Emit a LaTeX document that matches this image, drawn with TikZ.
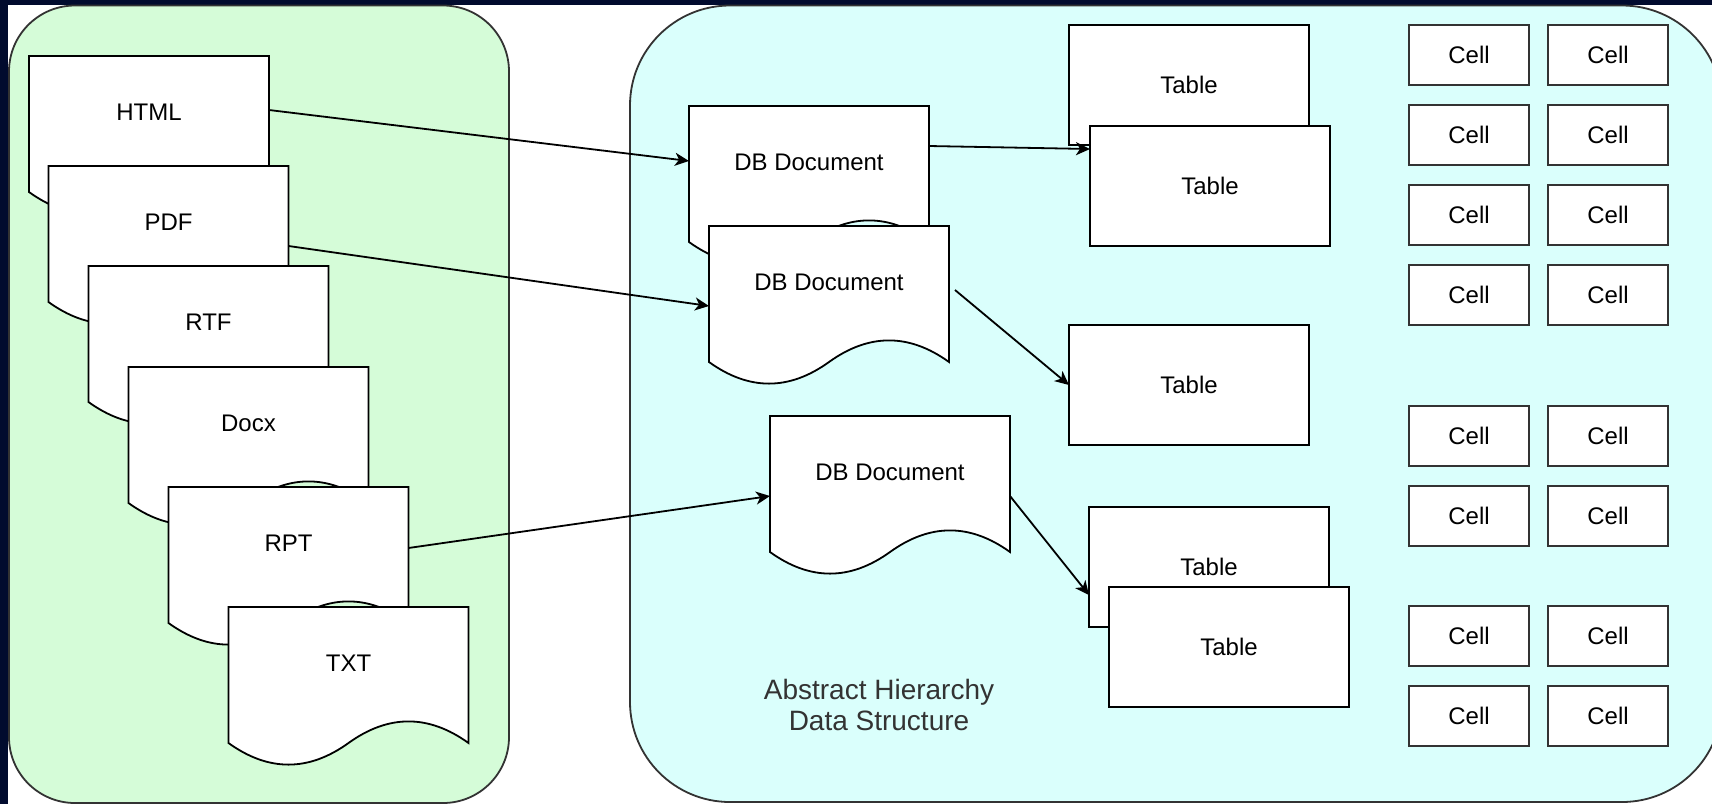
\documentclass[tikz,border=0pt]{standalone}
\usepackage{fontspec}
\setmainfont{Liberation Sans}
\usepackage{xcolor}
\usetikzlibrary{arrows.meta, positioning}

\definecolor{navy}{RGB}{1,11,46}
\definecolor{srcgreen}{RGB}{213,252,216}
\definecolor{dbcyan}{RGB}{218,255,252}
\definecolor{edgegray}{RGB}{51,51,51}

% document with wavy bottom: outline first, named node on top
\newcommand{\docnode}[4]{%
  \begin{scope}[shift={(#2,#3)}]
    \filldraw[docline] (0,0) -- (240,0) -- (240,136)
      .. controls (200,107.2) and (160,107.2) .. (120,136)
      .. controls (80,164.8) and (40,164.8) .. (0,136) -- cycle;
  \end{scope}
  \node[doc] (#1) at (#2,#3) {#4};
}

\tikzset{
  docline/.style={fill=white, draw=black, line width=0.9pt},
  doc/.style={anchor=north west, inner sep=0pt, outer sep=0pt,
    minimum width=120pt, text height=32.3pt, text depth=47.7pt,
    font=\fontsize{12}{14}\selectfont},
  tab/.style={draw=black, fill=white, line width=0.9pt, anchor=north west,
    minimum width=120pt, minimum height=60pt, inner sep=0pt, outer sep=0pt,
    font=\fontsize{12}{14}\selectfont},
  cell/.style={draw=edgegray, fill=white, line width=1pt,
    minimum width=60pt, minimum height=30pt, inner sep=0pt, outer sep=0pt,
    font=\fontsize{12}{14}\selectfont},
  frame/.style={draw=edgegray, line width=0.9pt},
  link/.style={line width=0.9pt, -{Stealth[length=7pt,width=6.5pt,inset=2pt]}},
}

\begin{document}
\begin{tikzpicture}[x=0.5pt, y=-0.5pt]
  \useasboundingbox (0,0) rectangle (1712,804);
  \clip (0,0) rectangle (1712,804);
  \fill[navy] (0,0) rectangle (1712,804);
  \fill[white] (7.5,5) rectangle (1712,804);

  % containers
  \draw[frame, fill=srcgreen, rounded corners=33pt] (9,5.5) rectangle (509,803);
  \draw[frame, fill=dbcyan, rounded corners=50pt] (630,5.5) rectangle (1722,802);

  % source files
  \docnode{html}{29}{56}{HTML}
  \docnode{pdf}{48.5}{166}{PDF}
  \docnode{rtf}{88.5}{266}{RTF}
  \docnode{docx}{128.5}{367}{Docx}
  \docnode{rpt}{168.5}{487}{RPT}
  \docnode{txt}{228.5}{607}{TXT}

  % db documents
  \docnode{dba}{689}{106}{DB Document}
  \docnode{dbb}{709}{226}{DB Document}
  \docnode{dbc}{770}{416}{DB Document}

  % tables
  \node[tab] (tab1) at (1069,25) {Table};
  \node[tab] (tab2) at (1090,126) {Table};
  \node[tab] (tab3) at (1069,325) {Table};
  \node[tab] (tab4) at (1089,507) {Table};
  \node[tab] (tab5) at (1109,587) {Table};

  % cells
  \foreach \r/\y in {1/25,2/105,3/185,4/265,5/406,6/486,7/606,8/686}{
    \node[cell, anchor=north west] (cell\r a) at (1409,\y) {Cell};
    \node[cell, right=9.5pt of cell\r a] (cell\r b) {Cell};
  }

  \node[align=center, text=edgegray, font=\fontsize{14}{15.3}\selectfont]
    (absnote) at (879,705) {Abstract Hierarchy\\Data Structure};

  % links
  \draw[link] ([yshift=13pt]html.east) -- ([yshift=12.5pt]dba.west);
  \draw[link] (pdf.east) -- (dbb.west);
  \draw[link] ([yshift=9.5pt]rpt.east) -- (dbc.west);
  \draw[link] ([yshift=20pt]dba.east) -- ([yshift=18.5pt]tab2.west);
  \draw[link] ([shift={(3pt,8pt)}]dbb.east) -- (tab3.west);
  \draw[link] (dbc.east) -- ([yshift=-14pt]tab4.west);
\end{tikzpicture}
\end{document}
